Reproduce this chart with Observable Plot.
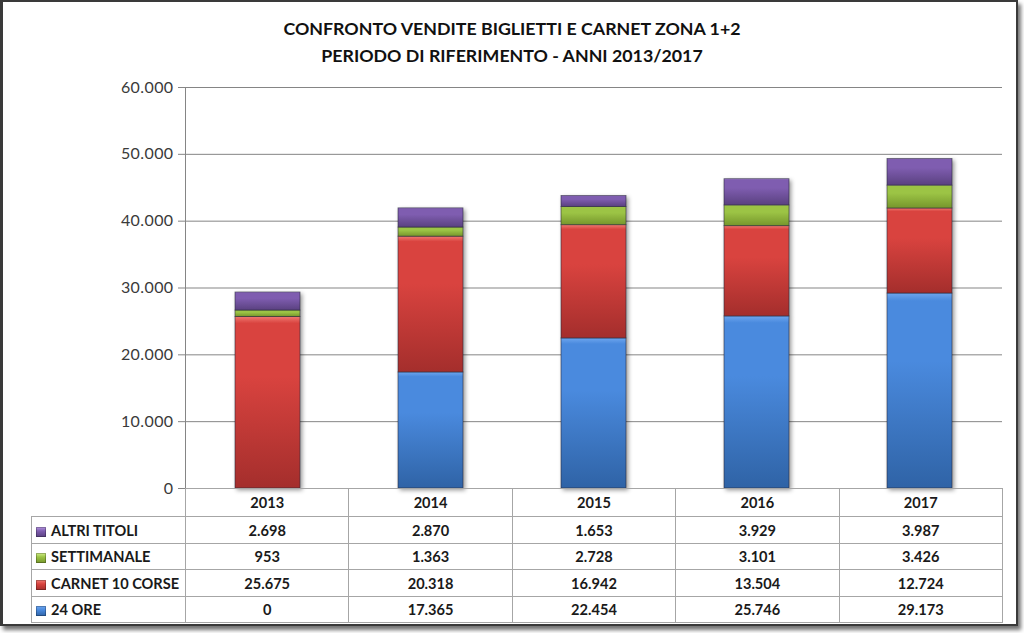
<!DOCTYPE html>
<html>
<head>
<meta charset="utf-8">
<script src="https://cdn.jsdelivr.net/npm/d3@7"></script>
<script src="https://cdn.jsdelivr.net/npm/@observablehq/plot@0.6"></script>
<style>
  html, body { margin: 0; padding: 0; background: #fff; }
  #wrap { position: relative; width: 1024px; height: 633px; overflow: hidden; background: #fff; font-family: Lato, "DejaVu Sans", sans-serif; }
  #frame { position: absolute; left: 0; top: 0; width: 1018px; height: 626px; box-sizing: border-box; border: 2px solid #3a3a3a; border-left-width: 3px; box-shadow: 3px 4px 4px rgba(0,0,0,0.55); pointer-events: none; }
  #title { position: absolute; left: 0; top: 15px; width: 1024px; text-align: center; font-weight: bold; font-size: 17.8px; line-height: 27px; color: #111; }
  #chart { position: absolute; left: 0; top: 0; }
  #tbl { position: absolute; left: 31px; top: 488px; border-collapse: collapse; table-layout: fixed; width: 971px; font-weight: bold; font-size: 14.6px; color: #1a1a1a; }
  #tbl td { border: 1px solid #a6a6a6; padding: 0; text-align: center; white-space: nowrap; }
  #tbl td.lab { text-align: left; padding-left: 4px; }
  #tbl td.blank { border: none; border-right: 1px solid #a6a6a6; border-bottom: 1px solid #a6a6a6; }
  .key { display: inline-block; width: 10px; height: 10px; margin-right: 5px; vertical-align: -1px; box-shadow: inset 0 0 0 1px rgba(0,0,0,0.25); }
</style>
</head>
<body>
<div id="wrap">
  <div id="chart"></div>
  <div id="title">CONFRONTO VENDITE BIGLIETTI E CARNET ZONA 1+2<br>PERIODO DI RIFERIMENTO - ANNI 2013/2017</div>
  <table id="tbl"></table>
  <div id="frame"></div>
</div>
<script>
// ---- data ----
const years = ["2013", "2014", "2015", "2016", "2017"];
const series = ["24 ORE", "CARNET 10 CORSE", "SETTIMANALE", "ALTRI TITOLI"];
const ore24 = [0, 17365, 22454, 25746, 29173];
const carnet10 = [25675, 20318, 16942, 13504, 12724];
const settimanale = [953, 1363, 2728, 3101, 3426];
const altriTitoli = [2698, 2870, 1653, 3929, 3987];
const yTicks = [0, 10000, 20000, 30000, 40000, 50000, 60000];
const tableOrder = ["ALTRI TITOLI", "SETTIMANALE", "CARNET 10 CORSE", "24 ORE"];

const valuesBySeries = {
  "24 ORE": ore24,
  "CARNET 10 CORSE": carnet10,
  "SETTIMANALE": settimanale,
  "ALTRI TITOLI": altriTitoli
};
const gradients = {
  "24 ORE": ["#6ea6ee", "#4a8ade", "#2f63a6"],
  "CARNET 10 CORSE": ["#f07a72", "#d9433f", "#a42e2c"],
  "SETTIMANALE": ["#d2ee8a", "#9cc445", "#76962c"],
  "ALTRI TITOLI": ["#b596e0", "#7f5db0", "#5a4180"]
};
const gid = s => "g" + series.indexOf(s);

const rows = [];
series.forEach(s => years.forEach((y, i) => rows.push({year: y, series: s, value: valuesBySeries[s][i]})));

const loc = d3.formatLocale({decimal: ",", thousands: ".", grouping: [3], currency: ["", "€"]});
const fmt = loc.format(",d");

const plot = Plot.plot({
  width: 1024,
  height: 633,
  marginLeft: 185,
  marginRight: 22,
  marginTop: 87,
  marginBottom: 145,
  style: {background: "transparent", fontFamily: "Lato, 'DejaVu Sans', sans-serif"},
  x: {domain: years, paddingInner: 0.6, paddingOuter: 0.3, axis: null},
  y: {domain: [0, 60000], axis: null},
  color: {domain: series, range: series.map(s => `url(#${gid(s)})`)},
  marks: [
    Plot.gridY(yTicks, {stroke: "#858585", strokeOpacity: 1}),
    Plot.axisY(yTicks, {tickFormat: fmt, tickSize: 7, tickPadding: 5, fontSize: 16, color: "#3a3a3a", stroke: "#858585", label: null}),
    Plot.frame({anchor: "left", stroke: "#858585"}),
    Plot.barY(rows, Plot.stackY({x: "year", y: "value", fill: "series", order: series, stroke: "#2a2a3a", strokeWidth: 0.8, strokeOpacity: 0.7}))
  ]
});

// gradient defs
const svg = d3.select(plot.tagName === "svg" ? plot : plot.querySelector("svg"));
svg.selectAll('g[aria-label="y-axis tick label"] text').style("letter-spacing", "0.4px");
const defs = svg.insert("defs", ":first-child");
series.forEach(s => {
  const [hi, mid, lo] = gradients[s];
  const g = defs.append("linearGradient").attr("id", gid(s)).attr("x1", 0).attr("y1", 0).attr("x2", 0).attr("y2", 1);
  g.append("stop").attr("offset", "0%").attr("stop-color", hi);
  g.append("stop").attr("offset", "4%").attr("stop-color", mid);
  g.append("stop").attr("offset", "35%").attr("stop-color", mid);
  g.append("stop").attr("offset", "100%").attr("stop-color", lo);
});
svg.selectAll('g[aria-label="bar"]').style("filter", "drop-shadow(2px 2px 2px rgba(0,0,0,0.4))");
document.getElementById("chart").appendChild(plot);

// data table
const tbl = d3.select("#tbl");
const cg = tbl.append("colgroup");
cg.append("col").style("width", "154px");
years.forEach(() => cg.append("col").style("width", "163.4px"));
const hr = tbl.append("tr").style("height", "28px");
hr.append("td").attr("class", "blank");
years.forEach(y => hr.append("td").text(y));
const rh = [27, 26, 27, 26];
tableOrder.forEach((s, k) => {
  const tr = tbl.append("tr").style("height", rh[k] + "px");
  const lab = tr.append("td").attr("class", "lab");
  const [hi, mid, lo] = gradients[s];
  lab.append("span").attr("class", "key").style("background", `linear-gradient(${hi}, ${mid} 40%, ${lo})`);
  lab.append("span").text(s);
  valuesBySeries[s].forEach(v => tr.append("td").text(fmt(v)));
});
</script>
</body>
</html>
